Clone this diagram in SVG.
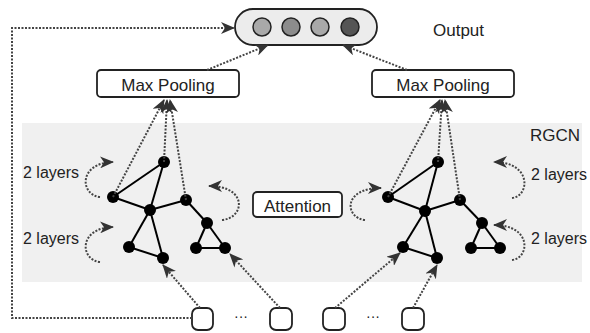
<svg xmlns="http://www.w3.org/2000/svg" width="590" height="333" viewBox="0 0 590 333">
<style>
.t{font-family:"Liberation Sans",Arial,sans-serif;fill:#222}
.lbl{font-size:17px}
.ly{font-size:16px}
.box{fill:#fff;stroke:#222;stroke-width:1.8}
.dot{fill:none;stroke:#444;stroke-width:2;stroke-dasharray:2 1.5}
.edge{stroke:#000;stroke-width:2}
.n{fill:#000}
</style>
<defs>
<marker id="ah" markerUnits="userSpaceOnUse" markerWidth="14" markerHeight="12" viewBox="0 0 14 12" refX="13" refY="6" orient="auto">
<path d="M0,0 L14,6 L0,12 L4,6 z" fill="#333"/>
</marker>
</defs>
<rect x="22" y="123" width="560" height="159" fill="#f0f0f0"/>
<text class="t lbl" x="530" y="141">RGCN</text>

<g id="output">
<rect x="235" y="9" width="142" height="36" rx="18" fill="#ececec" stroke="#222" stroke-width="1.8"/>
<circle cx="262" cy="27" r="9" fill="#a9a9a9" stroke="#222" stroke-width="1.5"/>
<circle cx="291" cy="27" r="9" fill="#8c8c8c" stroke="#222" stroke-width="1.5"/>
<circle cx="320" cy="27" r="9" fill="#a9a9a9" stroke="#222" stroke-width="1.5"/>
<circle cx="350" cy="27" r="9" fill="#555" stroke="#222" stroke-width="1.5"/>
</g>
<text class="t lbl" x="433" y="36">Output</text>

<g id="maxpool-left">
<rect class="box" x="97" y="70" width="142" height="27" rx="4"/>
<text class="t lbl" x="168" y="91" text-anchor="middle">Max Pooling</text>
</g>
<g id="maxpool-right">
<rect class="box" x="372" y="70" width="142" height="27" rx="4"/>
<text class="t lbl" x="443" y="91" text-anchor="middle">Max Pooling</text>
</g>

<g id="attention">
<rect class="box" x="253" y="192" width="89" height="25" rx="4"/>
<text class="t lbl" x="297.500" y="212" text-anchor="middle">Attention</text>
</g>

<g id="layer-labels">
<text class="t ly" x="23" y="178">2 layers</text>
<text class="t ly" x="23" y="244">2 layers</text>
<text class="t ly" x="531" y="180">2 layers</text>
<text class="t ly" x="531" y="244">2 layers</text>
</g>

<g id="graph-left">
<line class="edge" x1="164" y1="162" x2="113" y2="197"/>
<line class="edge" x1="164" y1="162" x2="150" y2="210"/>
<line class="edge" x1="113" y1="197" x2="150" y2="210"/>
<line class="edge" x1="150" y1="210" x2="186" y2="200"/>
<line class="edge" x1="186" y1="200" x2="207" y2="223"/>
<line class="edge" x1="207" y1="223" x2="196" y2="248"/>
<line class="edge" x1="207" y1="223" x2="225" y2="248"/>
<line class="edge" x1="196" y1="248" x2="225" y2="248"/>
<line class="edge" x1="150" y1="210" x2="129" y2="247"/>
<line class="edge" x1="150" y1="210" x2="163" y2="258"/>
<line class="edge" x1="129" y1="247" x2="163" y2="258"/>
<circle class="n" cx="164" cy="162" r="6"/>
<circle class="n" cx="113" cy="197" r="6"/>
<circle class="n" cx="150" cy="210" r="6"/>
<circle class="n" cx="186" cy="200" r="6"/>
<circle class="n" cx="207" cy="223" r="6"/>
<circle class="n" cx="196" cy="248" r="6"/>
<circle class="n" cx="225" cy="248" r="6"/>
<circle class="n" cx="129" cy="247" r="6"/>
<circle class="n" cx="163" cy="258" r="6"/>
</g>

<g id="graph-right">
<line class="edge" x1="438" y1="162" x2="388" y2="197"/>
<line class="edge" x1="438" y1="162" x2="425" y2="211"/>
<line class="edge" x1="388" y1="197" x2="425" y2="211"/>
<line class="edge" x1="425" y1="211" x2="460" y2="200"/>
<line class="edge" x1="460" y1="200" x2="482" y2="223"/>
<line class="edge" x1="482" y1="223" x2="471" y2="248"/>
<line class="edge" x1="482" y1="223" x2="500" y2="248"/>
<line class="edge" x1="471" y1="248" x2="500" y2="248"/>
<line class="edge" x1="425" y1="211" x2="403" y2="247"/>
<line class="edge" x1="425" y1="211" x2="437" y2="258"/>
<line class="edge" x1="403" y1="247" x2="437" y2="258"/>
<circle class="n" cx="438" cy="162" r="6"/>
<circle class="n" cx="388" cy="197" r="6"/>
<circle class="n" cx="425" cy="211" r="6"/>
<circle class="n" cx="460" cy="200" r="6"/>
<circle class="n" cx="482" cy="223" r="6"/>
<circle class="n" cx="471" cy="248" r="6"/>
<circle class="n" cx="500" cy="248" r="6"/>
<circle class="n" cx="403" cy="247" r="6"/>
<circle class="n" cx="437" cy="258" r="6"/>
</g>

<g id="inputs">
<rect class="box" x="192" y="308" width="21" height="22" rx="6"/>
<rect class="box" x="270" y="308" width="22" height="22" rx="6"/>
<rect class="box" x="323" y="308" width="22" height="22" rx="6"/>
<rect class="box" x="402" y="308" width="22" height="22" rx="6"/>
<text class="t" font-size="14" x="241" y="321" text-anchor="middle">···</text>
<text class="t" font-size="14" x="373" y="321" text-anchor="middle">···</text>
</g>

<g id="connectors">
<path class="dot" d="M192,318 L12,318 L12,28 L234,28" marker-end="url(#ah)"/>
<path class="dot" d="M207,70 L268,45" marker-end="url(#ah)"/>
<path class="dot" d="M407,70 L343,45" marker-end="url(#ah)"/>
<path class="dot" d="M113,197 L164,100" marker-end="url(#ah)"/>
<path class="dot" d="M164,162 L167,100" marker-end="url(#ah)"/>
<path class="dot" d="M186,200 L170,100" marker-end="url(#ah)"/>
<path class="dot" d="M388,197 L440,100" marker-end="url(#ah)"/>
<path class="dot" d="M438,162 L442,100" marker-end="url(#ah)"/>
<path class="dot" d="M460,200 L445,100" marker-end="url(#ah)"/>
<path class="dot" d="M200,308 L163,265" marker-end="url(#ah)"/>
<path class="dot" d="M280,308 L230,254" marker-end="url(#ah)"/>
<path class="dot" d="M335,308 L400,253" marker-end="url(#ah)"/>
<path class="dot" d="M413,308 L437,265" marker-end="url(#ah)"/>
<path class="dot" d="M100,197 C80,195 78,163 113,162" marker-end="url(#ah)"/>
<path class="dot" d="M100,262 C80,260 78,228 113,227" marker-end="url(#ah)"/>
<path class="dot" d="M222,220 C245,218 248,186 209,186" marker-end="url(#ah)"/>
<path class="dot" d="M365,220 C345,218 342,188 381,188" marker-end="url(#ah)"/>
<path class="dot" d="M512,198 C530,196 532,162 494,162" marker-end="url(#ah)"/>
<path class="dot" d="M512,260 C530,258 532,225 494,225" marker-end="url(#ah)"/>
</g>
</svg>
